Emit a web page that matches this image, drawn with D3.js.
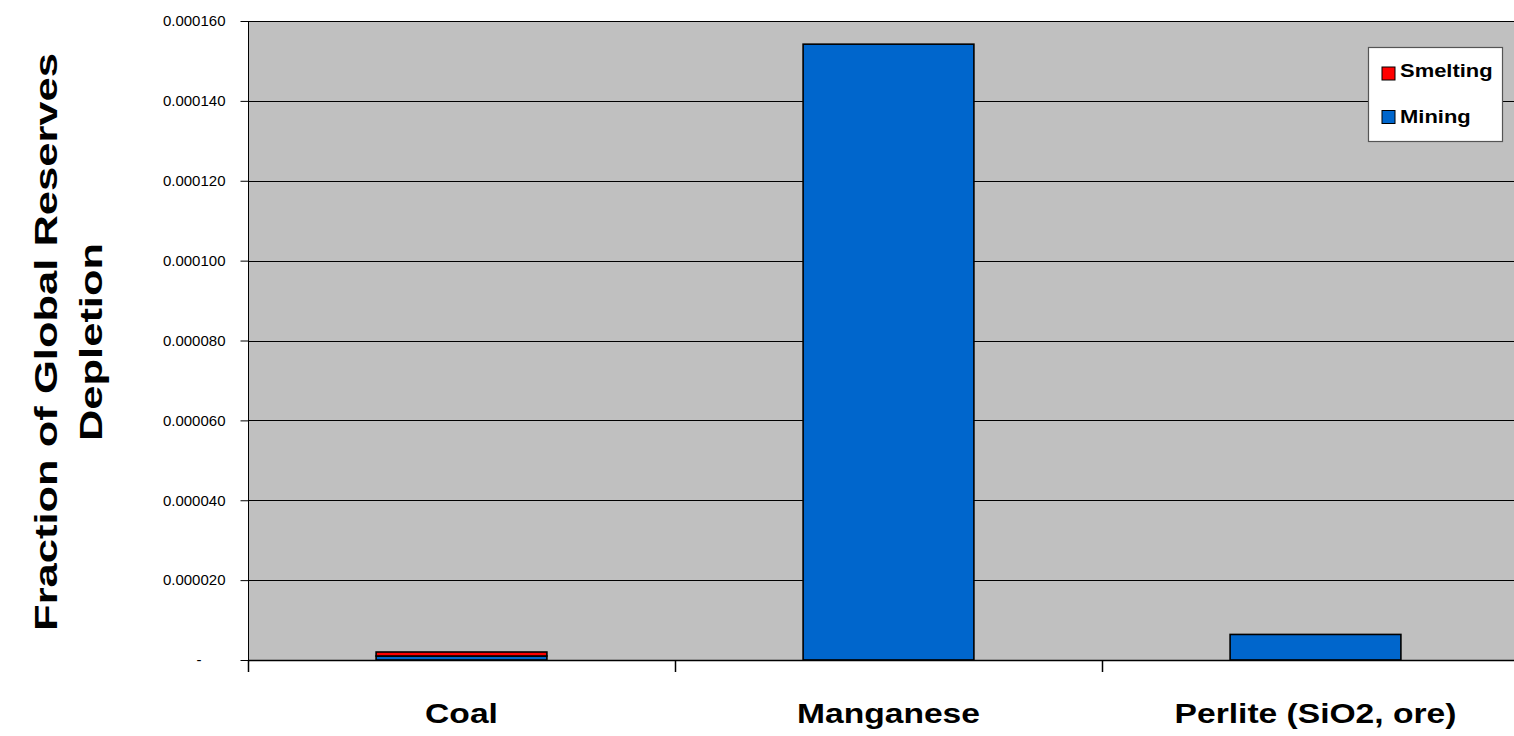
<!DOCTYPE html>
<html>
<head>
<meta charset="utf-8">
<script src="https://cdn.jsdelivr.net/npm/d3@7"></script>
<style>
  html, body { margin: 0; padding: 0; background: #ffffff; }
  svg { display: block; font-family: Arial, "Liberation Sans", sans-serif; }
</style>
</head>
<body>
<svg id="chart" width="1514" height="736"></svg>
<script>
// Reserve depletion per resource, split by process stage
const categories = ["Coal", "Manganese", "Perlite (SiO2, ore)"];
const mining = [0.0000010, 0.0001542, 0.0000064];
const smelting = [0.0000010, 0.0, 0.0];
const seriesNames = ["Mining", "Smelting"];
const seriesColors = ["#0066CC", "#FF0000"];
const yTicks = [0, 0.00002, 0.00004, 0.00006, 0.00008, 0.0001, 0.00012, 0.00014, 0.00016];
const yTitle = ["Fraction of Global Reserves", "Depletion"];
const legendItems = ["Smelting", "Mining"];

const svg = d3.select("#chart");
const plot = { left: 248, top: 21, right: 1529, bottom: 660 };

const x = d3.scaleBand().domain(categories).range([plot.left, plot.right]).paddingInner(0).paddingOuter(0);
const y = d3.scaleLinear().domain([0, 0.00016]).range([plot.bottom, plot.top]);

// plot background
svg.append("rect")
  .attr("x", plot.left).attr("y", plot.top)
  .attr("width", plot.right - plot.left).attr("height", plot.bottom - plot.top)
  .attr("fill", "#C0C0C0");

// horizontal gridlines
svg.append("g").selectAll("line").data(yTicks.slice(1)).join("line")
  .attr("x1", plot.left).attr("x2", plot.right)
  .attr("y1", d => Math.round(y(d)) + 0.5).attr("y2", d => Math.round(y(d)) + 0.5)
  .attr("stroke", "#000").attr("stroke-width", 1);

// stacked bars
const rows = categories.map((c, i) => ({ cat: c, Mining: mining[i], Smelting: smelting[i] }));
const stack = d3.stack().keys(seriesNames)(rows);
const barW = x.bandwidth() / 2.5;
const color = d3.scaleOrdinal().domain(seriesNames).range(seriesColors);

svg.append("g").selectAll("g").data(stack).join("g")
  .attr("fill", d => color(d.key))
  .selectAll("rect").data(d => d.filter(p => p[1] - p[0] > 0)).join("rect")
  .attr("x", d => x(d.data.cat) + (x.bandwidth() - barW) / 2)
  .attr("y", d => y(d[1]))
  .attr("width", barW)
  .attr("height", d => y(d[0]) - y(d[1]))
  .attr("stroke", "#000").attr("stroke-width", 1.6);

// y axis
const yAxis = d3.axisLeft(y).tickValues(yTicks).tickSize(8).tickSizeOuter(0)
  .tickFormat(d => d === 0 ? "-" : d3.format(".6f")(d));
const gy = svg.append("g").attr("transform", `translate(${plot.left + 0.5},0)`).call(yAxis);
gy.select(".domain").remove();
gy.selectAll(".tick line").attr("stroke", "#000");
gy.selectAll(".tick text").attr("font-size", 15).attr("fill", "#000").attr("x", -23)
  .attr("dx", d => d === 0 ? -24 : 0);
svg.append("line")
  .attr("x1", plot.left + 0.5).attr("x2", plot.left + 0.5)
  .attr("y1", plot.top).attr("y2", plot.bottom + 12)
  .attr("stroke", "#000");

// x axis baseline and category separators
svg.append("line")
  .attr("x1", plot.left).attr("x2", plot.right)
  .attr("y1", plot.bottom + 0.5).attr("y2", plot.bottom + 0.5)
  .attr("stroke", "#000").attr("stroke-width", 1.5);
const seps = categories.map(c => x(c)).concat([plot.right]);
svg.append("g").selectAll("line").data(seps).join("line")
  .attr("x1", d => Math.round(d) + 0.5).attr("x2", d => Math.round(d) + 0.5)
  .attr("y1", plot.bottom).attr("y2", plot.bottom + 12)
  .attr("stroke", "#000").attr("stroke-width", 1.5);

// category labels (wide bold face)
svg.append("g").selectAll("text").data(categories).join("text")
  .attr("transform", d => `translate(${x(d) + x.bandwidth() / 2},723) scale(1.2,1)`)
  .attr("text-anchor", "middle")
  .attr("font-size", 28).attr("font-weight", "bold")
  .attr("fill", "#000")
  .text(d => d);

// y axis title
const cy = (plot.top + plot.bottom) / 2;
svg.append("g").selectAll("text").data(yTitle).join("text")
  .attr("transform", (d, i) => `translate(${57 + i * 45},${cy + 1.5}) rotate(-90) scale(1.36,1)`)
  .attr("text-anchor", "middle")
  .attr("font-size", 32).attr("font-weight", "bold")
  .attr("fill", "#000")
  .text(d => d);

// legend
const lg = svg.append("g");
lg.append("rect")
  .attr("x", 1368.5).attr("y", 47.5).attr("width", 134).attr("height", 94)
  .attr("fill", "#fff").attr("stroke", "#555").attr("stroke-width", 1.2);
legendItems.forEach((name, i) => {
  const yy = 67 + i * 43.5;
  lg.append("rect")
    .attr("x", 1382).attr("y", yy).attr("width", 13).attr("height", 13)
    .attr("fill", color(name)).attr("stroke", "#000").attr("stroke-width", 1);
  lg.append("text")
    .attr("transform", `translate(1400,${yy + 10 + i * 2.5}) scale(1.22,1)`)
    .attr("font-size", 18).attr("font-weight", "bold")
    .attr("fill", "#000").text(name);
});
</script>
</body>
</html>
